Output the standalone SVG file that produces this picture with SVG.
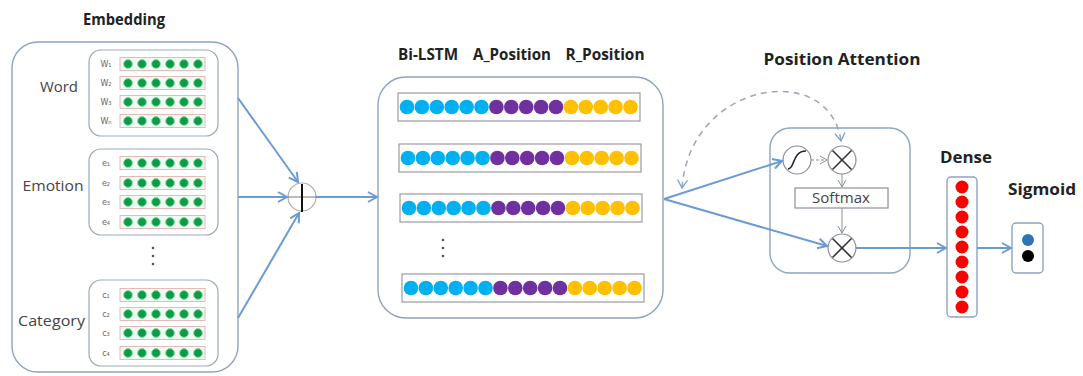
<svg xmlns="http://www.w3.org/2000/svg" xmlns:xlink="http://www.w3.org/1999/xlink" width="1083" height="376" viewBox="0 0 1083 376">
<style>
.box{fill:none;stroke:#8ea3bd;stroke-width:1.4}
.inbox{fill:#fff;stroke:#9aa9bb;stroke-width:1.2}
.title{font-family:"Open Sans","Liberation Sans",sans-serif;font-weight:700;font-size:16px;fill:#222;text-anchor:middle}
.lbl{font-family:"Open Sans","Liberation Sans",sans-serif;font-size:14px;fill:#444;text-anchor:middle}
.sub{font-family:"DejaVu Sans","Liberation Sans",sans-serif;font-size:8px;fill:#666;text-anchor:middle}
.conn{fill:none;stroke:#6b9bd2;stroke-width:2}
.thin{fill:none;stroke:#8a8f99;stroke-width:1}
.dash{fill:none;stroke:#a3aab6;stroke-width:1.6;stroke-dasharray:6 5}
.g{fill:#0e9a48;stroke:#7fe0a0;stroke-width:1}
.c{fill:#00b0f0}
.p{fill:#7030a0}
.y{fill:#ffc000}
.r{fill:#ff0000}
.xl{stroke:#333;stroke-width:1.6}
</style>
<defs>
<marker id="ah" markerWidth="12" markerHeight="12" refX="10" refY="6" orient="auto" markerUnits="userSpaceOnUse">
<path d="M1,1 L10,6 L1,11" fill="none" stroke="#6b9bd2" stroke-width="2"/>
</marker>
<marker id="ahs" markerWidth="10" markerHeight="10" refX="8" refY="5" orient="auto" markerUnits="userSpaceOnUse">
<path d="M1,1 L8,5 L1,9" fill="none" stroke="#8a8f99" stroke-width="1"/>
</marker>
<marker id="ahd" markerWidth="12" markerHeight="12" refX="9" refY="6" orient="auto-start-reverse" markerUnits="userSpaceOnUse">
<path d="M1,1 L9,6 L1,11" fill="none" stroke="#7aa3d4" stroke-width="1.3"/>
</marker>
<g id="erow">
<rect x="0" y="-6.5" width="85" height="13" fill="#effaf2" stroke="#e3a9a9" stroke-width="0.8"/>
<circle class="g" cx="8" cy="0" r="4.4"/><circle class="g" cx="22" cy="0" r="4.4"/><circle class="g" cx="36" cy="0" r="4.4"/><circle class="g" cx="50" cy="0" r="4.4"/><circle class="g" cx="64" cy="0" r="4.4"/><circle class="g" cx="78" cy="0" r="4.4"/>
</g>
<g id="brow">
<rect x="0" y="-14" width="242" height="28" fill="#fff" stroke="#9d9aa6" stroke-width="1.2"/>
<circle class="c" cx="9" cy="0" r="7.3"/><circle class="c" cx="23.9" cy="0" r="7.3"/><circle class="c" cx="38.8" cy="0" r="7.3"/><circle class="c" cx="53.7" cy="0" r="7.3"/><circle class="c" cx="68.6" cy="0" r="7.3"/><circle class="c" cx="83.5" cy="0" r="7.3"/>
<circle class="p" cx="98.4" cy="0" r="7.3"/><circle class="p" cx="113.3" cy="0" r="7.3"/><circle class="p" cx="128.2" cy="0" r="7.3"/><circle class="p" cx="143.1" cy="0" r="7.3"/><circle class="p" cx="158" cy="0" r="7.3"/>
<circle class="y" cx="172.9" cy="0" r="7.3"/><circle class="y" cx="187.8" cy="0" r="7.3"/><circle class="y" cx="202.7" cy="0" r="7.3"/><circle class="y" cx="217.6" cy="0" r="7.3"/><circle class="y" cx="232.5" cy="0" r="7.3"/>
</g>
<g id="xcirc">
<circle cx="0" cy="0" r="14" fill="#fff" stroke="#8a8f99" stroke-width="1.2"/>
<line class="xl" x1="-9.5" y1="-9.5" x2="9.5" y2="9.5"/><line class="xl" x1="9.5" y1="-9.5" x2="-9.5" y2="9.5"/>
</g>
</defs>
<rect width="1083" height="376" fill="#fff"/>

<g id="embedding">
<text class="title" x="124" y="25" textLength="82" lengthAdjust="spacingAndGlyphs">Embedding</text>
<rect class="box" x="12" y="42" width="226" height="330" rx="26"/>
<g id="word">
<text class="lbl" x="59" y="92" textLength="38" lengthAdjust="spacingAndGlyphs">Word</text>
<rect class="inbox" x="89" y="50" width="129" height="86" rx="12"/>
<text class="sub" x="106" y="67">W₁</text><use xlink:href="#erow" x="120" y="64"/>
<text class="sub" x="106" y="86">W₂</text><use xlink:href="#erow" x="120" y="83"/>
<text class="sub" x="106" y="105">W₃</text><use xlink:href="#erow" x="120" y="102"/>
<text class="sub" x="106" y="124">Wₙ</text><use xlink:href="#erow" x="120" y="121"/>
</g>
<g id="emotion">
<text class="lbl" x="53" y="191" textLength="61" lengthAdjust="spacingAndGlyphs">Emotion</text>
<rect class="inbox" x="89" y="149" width="129" height="86" rx="12"/>
<text class="sub" x="106" y="166">e₁</text><use xlink:href="#erow" x="120" y="163"/>
<text class="sub" x="106" y="186">e₂</text><use xlink:href="#erow" x="120" y="183"/>
<text class="sub" x="106" y="205">e₃</text><use xlink:href="#erow" x="120" y="202"/>
<text class="sub" x="106" y="225">e₄</text><use xlink:href="#erow" x="120" y="222"/>
</g>
<g fill="#555"><circle cx="153" cy="248" r="1.3"/><circle cx="153" cy="256" r="1.3"/><circle cx="153" cy="264" r="1.3"/></g>
<g id="category">
<text class="lbl" x="51.5" y="326" textLength="67" lengthAdjust="spacingAndGlyphs">Category</text>
<rect class="inbox" x="89" y="280" width="129" height="86" rx="12"/>
<text class="sub" x="106" y="298">c₁</text><use xlink:href="#erow" x="120" y="295"/>
<text class="sub" x="106" y="317">c₂</text><use xlink:href="#erow" x="120" y="314"/>
<text class="sub" x="106" y="336">c₃</text><use xlink:href="#erow" x="120" y="333"/>
<text class="sub" x="106" y="356">c₄</text><use xlink:href="#erow" x="120" y="353"/>
</g>
</g>

<g id="concat">
<circle cx="302" cy="197" r="14" fill="none" stroke="#b9a7a7" stroke-width="1.2"/>
<line x1="288" y1="197" x2="316" y2="197" stroke="#777" stroke-width="1"/>
<line x1="302" y1="184" x2="302" y2="212" stroke="#111" stroke-width="2"/>
</g>

<g id="bilstm">
<text class="title" x="428" y="60" textLength="60" lengthAdjust="spacingAndGlyphs">Bi-LSTM</text>
<text class="title" x="512" y="60" textLength="78" lengthAdjust="spacingAndGlyphs">A_Position</text>
<text class="title" x="605" y="60" textLength="79" lengthAdjust="spacingAndGlyphs">R_Position</text>
<rect class="box" x="378" y="77" width="285" height="241" rx="28"/>
<use xlink:href="#brow" x="398" y="107"/>
<use xlink:href="#brow" x="399" y="158"/>
<use xlink:href="#brow" x="400" y="208"/>
<use xlink:href="#brow" x="402" y="288"/>
<g fill="#555"><circle cx="443" cy="240" r="1.3"/><circle cx="443" cy="248" r="1.3"/><circle cx="443" cy="256" r="1.3"/></g>
</g>

<g id="attention">
<text class="title" x="842" y="65" textLength="157" lengthAdjust="spacingAndGlyphs">Position Attention</text>
<rect class="box" x="770" y="128" width="140" height="145" rx="20"/>
<g id="tanh">
<circle cx="797" cy="160" r="14" fill="#fff" stroke="#8a8f99" stroke-width="1.2"/>
<path d="M788,169 C795,169 792,151 806,151" fill="none" stroke="#222" stroke-width="1.6"/>
</g>
<use xlink:href="#xcirc" x="842" y="160"/>
<g id="softmax">
<rect x="795" y="188" width="93" height="20" fill="#fff" stroke="#8a8f99" stroke-width="1.2"/>
<text class="lbl" x="841" y="203" font-size="13" textLength="58" lengthAdjust="spacingAndGlyphs">Softmax</text>
</g>
<use xlink:href="#xcirc" x="842" y="248"/>
</g>

<g id="dense">
<text class="title" x="966" y="163" textLength="52" lengthAdjust="spacingAndGlyphs">Dense</text>
<rect class="box" x="947" y="177" width="30" height="140" rx="4"/>
<circle class="r" cx="962" cy="187" r="6.5"/><circle class="r" cx="962" cy="202" r="6.5"/><circle class="r" cx="962" cy="217" r="6.5"/><circle class="r" cx="962" cy="232" r="6.5"/><circle class="r" cx="962" cy="247" r="6.5"/><circle class="r" cx="962" cy="262" r="6.5"/><circle class="r" cx="962" cy="277" r="6.5"/><circle class="r" cx="962" cy="292" r="6.5"/><circle class="r" cx="962" cy="307" r="6.5"/>
</g>

<g id="sigmoid">
<text class="title" x="1042" y="195" textLength="68" lengthAdjust="spacingAndGlyphs">Sigmoid</text>
<rect class="box" x="1012" y="223" width="31" height="50" rx="4"/>
<circle cx="1028" cy="240" r="6" fill="#2e75b6"/>
<circle cx="1028" cy="256" r="6" fill="#000"/>
</g>

<g id="connectors">
<line class="conn" x1="238" y1="98" x2="298" y2="182" marker-end="url(#ah)"/>
<line class="conn" x1="238" y1="197" x2="287" y2="197" marker-end="url(#ah)"/>
<line class="conn" x1="238" y1="318" x2="299" y2="213" marker-end="url(#ah)"/>
<line class="conn" x1="316" y1="197" x2="377" y2="197" marker-end="url(#ah)"/>
<line class="conn" x1="664" y1="199" x2="782" y2="161" marker-end="url(#ah)"/>
<line class="conn" x1="664" y1="199" x2="827" y2="246" marker-end="url(#ah)"/>
<path class="dash" d="M682,188 C690,80 830,60 841,141" marker-start="url(#ahd)" marker-end="url(#ahd)"/>
<line class="thin" x1="811" y1="160" x2="827" y2="160" stroke-dasharray="3 2" marker-end="url(#ahs)"/>
<line class="thin" x1="842" y1="174" x2="842" y2="187" marker-end="url(#ahs)"/>
<line class="thin" x1="842" y1="208" x2="842" y2="233" marker-end="url(#ahs)"/>
<line class="conn" x1="856" y1="248" x2="946" y2="248" marker-end="url(#ah)"/>
<line class="conn" x1="977" y1="248" x2="1011" y2="248" marker-end="url(#ah)"/>
</g>
</svg>
